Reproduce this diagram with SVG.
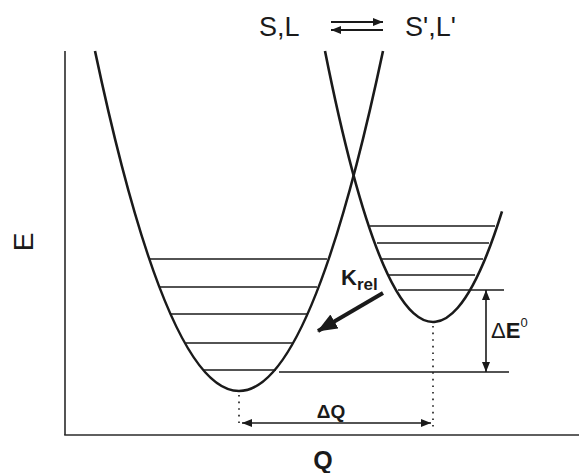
<svg xmlns="http://www.w3.org/2000/svg" width="579" height="473" viewBox="0 0 579 473">
<style>
.curve{fill:none;stroke:#1a1a1a;stroke-width:2.6}
.lvl{stroke:#1a1a1a;stroke-width:1.6}
.ax{stroke:#2a2a2a;stroke-width:1.6}
.dot{stroke:#1a1a1a;stroke-width:1.6;stroke-dasharray:1.6,5}
.t{font-family:"Liberation Sans",Arial,sans-serif;fill:#1a1a1a}
.b{font-weight:bold}
</style>
<defs>
<marker id="ah" viewBox="0 0 10 8" refX="10" refY="4" markerWidth="11" markerHeight="8" markerUnits="userSpaceOnUse" orient="auto-start-reverse">
<path d="M0,0 L10,4 L0,8 z" fill="#1a1a1a"/>
</marker>
<marker id="ahk" viewBox="0 0 20 16" refX="19" refY="8" markerWidth="20" markerHeight="16" markerUnits="userSpaceOnUse" orient="auto">
<path d="M0,0 L20,8 L0,16 z" fill="#1a1a1a"/>
</marker>
</defs>
<g id="axes">
<line class="ax" x1="65" y1="51" x2="65" y2="435"/>
<line class="ax" x1="64.2" y1="435" x2="579" y2="435"/>
<text class="t" x="0" y="0" font-size="28" text-anchor="middle" transform="translate(33,242) rotate(-90)">E</text>
<text class="t b" x="323" y="469" font-size="25" text-anchor="middle">Q</text>
</g>
<g id="title">
<text class="t" x="259" y="36" font-size="27">S,L</text>
<text class="t" x="405" y="36" font-size="27">S',L'</text>
</g>
<g id="wellSL">
<path class="curve" d="M95,51 Q239,731 383,51"/>
<line class="lvl" x1="150" y1="259" x2="327" y2="259"/>
<line class="lvl" x1="160" y1="287" x2="317" y2="287"/>
<line class="lvl" x1="171" y1="314" x2="307" y2="314"/>
<line class="lvl" x1="186" y1="343" x2="293" y2="343"/>
<line class="lvl" x1="203" y1="370" x2="276" y2="370"/>
</g>
<g id="wellSpLp">
<path class="curve" d="M325,51 Q413.5,495.1 502,211.4"/>
<line class="lvl" x1="370" y1="226" x2="495" y2="226"/>
<line class="lvl" x1="377" y1="243" x2="489" y2="243"/>
<line class="lvl" x1="382" y1="259" x2="483" y2="259"/>
<line class="lvl" x1="388" y1="275" x2="475" y2="275"/>
<line class="lvl" x1="398" y1="290" x2="504" y2="290"/>
</g>
<g id="baseline">
<line class="lvl" x1="279" y1="372" x2="509" y2="372"/>
</g>
<g id="connectors">
<line stroke="#1a1a1a" stroke-width="2.2" x1="331" y1="22" x2="383" y2="22" marker-end="url(#ah)"/>
<line stroke="#1a1a1a" stroke-width="2.2" x1="383" y1="30" x2="331" y2="30" marker-end="url(#ah)"/>
<line class="dot" x1="239" y1="395" x2="239" y2="428"/>
<line class="dot" x1="433" y1="326" x2="433" y2="428"/>
<line class="lvl" x1="242" y1="423" x2="431" y2="423" marker-start="url(#ah)" marker-end="url(#ah)"/>
<line class="lvl" x1="486" y1="290" x2="486" y2="372" marker-start="url(#ah)" marker-end="url(#ah)"/>
<line stroke="#1a1a1a" stroke-width="4" x1="383" y1="293" x2="318" y2="331" marker-end="url(#ahk)"/>
</g>
<g id="labels">
<text class="t b" x="331" y="418" font-size="19" text-anchor="middle">ΔQ</text>
<text class="t b" x="341" y="285" font-size="22">K<tspan font-size="17" dy="5">rel</tspan></text>
<text class="t" x="491" y="338" font-size="22"><tspan>Δ</tspan><tspan class="b">E</tspan><tspan font-size="13" dy="-11">0</tspan></text>
</g>
</svg>
